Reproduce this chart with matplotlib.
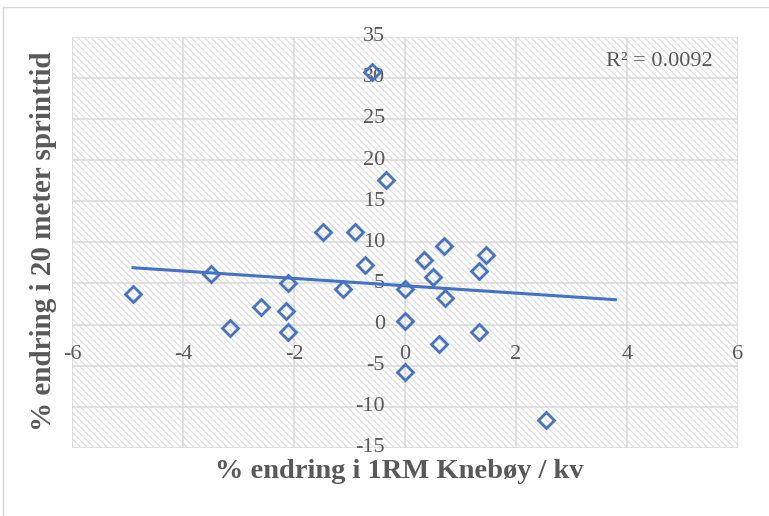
import matplotlib.pyplot as plt
import matplotlib.patches as patches
import numpy as np

# % change in 1RM squat / bw (x) vs % change in 20 m sprint time (y)
x_vals = [-4.9, -3.5, -3.15, -2.6, -2.14, -2.1, -2.1, -1.48, -0.9, -1.12, -0.72, -0.6, -0.34,
          0.7, 0.35, 0.51, 0.0, 0.72, 0.0, 0.62, 0.0, 1.33, 1.46, 1.34, 2.54]
y_vals = [3.7, 6.2, -0.45, 2.2, 1.7, -0.9, 5.1, 11.3, 11.2, 4.3, 7.2, 30.7, 17.6,
          9.55, 7.8, 5.8, 4.3, 3.2, 0.45, -2.4, -5.8, 6.55, 8.45, -0.87, -11.6]
x_ticks = [-6, -4, -2, 0, 2, 4, 6]
y_ticks = [-15, -10, -5, 0, 5, 10, 15, 20, 25, 30, 35]
trend_forward = 1.25
r2_label = "R² = 0.0092"
x_label = "% endring i 1RM Knebøy / kv"
y_label = "% endring i 20 meter sprinttid"

blue = '#4472C4'
grey_txt = '#595959'
grid_c = '#d9d9d9'

plt.rcParams['font.family'] = ['Liberation Serif', 'DejaVu Serif']
plt.rcParams['hatch.linewidth'] = 0.9

fig = plt.figure(figsize=(7.69, 5.16), dpi=100)
# outer chart border (only top/left visible in the crop)
fig.patches.append(patches.Rectangle((3 / 769, -0.1), 1.2, 1 - 7 / 516 + 0.1, transform=fig.transFigure,
                                     fill=False, edgecolor=grid_c, linewidth=1.0))

ax = fig.add_axes([72 / 769, 68 / 516, 666 / 769, 411.3 / 516])
ax.set_xlim(-6, 6)
ax.set_ylim(-15, 35)

# hatched plot area
ax.add_patch(patches.Rectangle((0, 0), 1, 1, transform=ax.transAxes, facecolor='white',
                               edgecolor='#e0e0e0', linewidth=0, hatch='\\\\\\\\\\', zorder=0))

for v in x_ticks:
    ax.axvline(v, color=grid_c, lw=1.1, zorder=1)
for v in y_ticks:
    ax.axhline(v, color=grid_c, lw=1.1, zorder=1)

for s in ax.spines.values():
    s.set_visible(False)
ax.set_xticks([])
ax.set_yticks([])

# tick labels placed next to the axes crossing at the origin
for v in x_ticks:
    ax.annotate(str(v), xy=(v, 0), xytext=(0, -30), textcoords='offset pixels',
                ha='center', va='center', fontsize=16, color=grey_txt, zorder=2)
for v in y_ticks:
    ax.annotate(str(v), xy=(0, v), xytext=(-20, 0), textcoords='offset pixels',
                ha='right', va='center', fontsize=16, color=grey_txt, zorder=2)

# trendline
xs = np.array(x_vals)
ys = np.array(y_vals)
k, m = np.polyfit(xs, ys, 1)
tx = np.array([xs.min(), xs.max() + trend_forward])
ax.plot(tx, k * tx + m, color=blue, lw=2.2, zorder=3)

ax.plot(xs, ys, linestyle='none', marker='D', markersize=8.3, markerfacecolor='none',
        markeredgecolor=blue, markeredgewidth=2.0, zorder=4)

ax.text(713 / 769, 1 - 62 / 516, r2_label, transform=fig.transFigure, fontsize=16,
        color=grey_txt, ha='right', va='center')

fig.text(399 / 769, 1 - 471 / 516, x_label, ha='center', va='center', fontsize=20.5,
         fontweight='bold', color=grey_txt)
fig.text(44 / 769, 1 - 241 / 516, y_label, ha='center', va='center', fontsize=21,
         fontweight='bold', color=grey_txt, rotation=90)

fig.savefig('out.png', dpi=100)
